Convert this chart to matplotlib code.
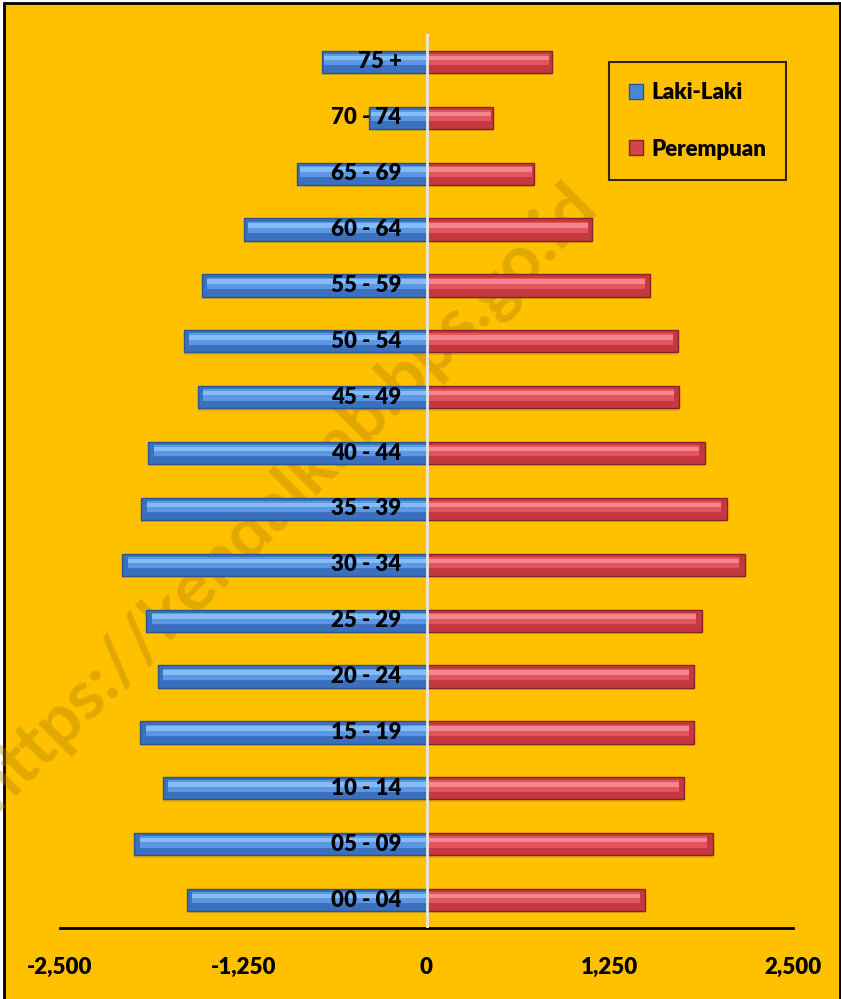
import matplotlib
matplotlib.use("Agg")
import matplotlib.pyplot as plt
from matplotlib.patches import Rectangle, Patch
from matplotlib.ticker import FuncFormatter
from matplotlib import font_manager
import numpy as np

categories = ["00 - 04", "05 - 09", "10 - 14", "15 - 19", "20 - 24", "25 - 29",
              "30 - 34", "35 - 39", "40 - 44", "45 - 49", "50 - 54", "55 - 59",
              "60 - 64", "65 - 69", "70 - 74", "75 +"]
laki = [1633, 1995, 1796, 1954, 1831, 1913, 2077, 1947, 1899, 1557, 1653, 1530,
        1243, 881, 389, 710]
perempuan = [1489, 1954, 1755, 1824, 1824, 1878, 2172, 2049, 1899, 1721, 1714,
             1523, 1127, 731, 451, 854]
xticks = [-2500, -1250, 0, 1250, 2500]

W, H = 841, 999
fig = plt.figure(figsize=(W / 100, H / 100), dpi=100, facecolor="white")
fig.patches.append(Rectangle((4 / W, -0.01), (836 / W), 1 - 3 / H + 0.01,
                             transform=fig.transFigure, facecolor="#FFC000",
                             edgecolor="black", linewidth=2, zorder=0))

FONT = "Lato"
WEIGHT = "heavy"
FS = 16

# watermark
fig.text(285 / W, 1 - 497 / H, "https://kendalkab.bps.go.id", rotation=45,
         ha="center", va="center", fontsize=50, fontweight="bold",
         family=FONT, color="#B08400", alpha=0.38, zorder=1)

ax = fig.add_axes([60 / W, 1 - 928 / H, (793 - 60) / W, (928 - 34) / H])
ax.set_facecolor("none")
ax.set_zorder(2)

y = np.arange(len(categories))
neg_laki = -np.array(laki)
pos_per = np.array(perempuan)
h = 0.4

# shadow
ax.barh(y - 0.04, neg_laki, height=h, color="#000000", alpha=0.10,
        linewidth=0, zorder=2)
ax.barh(y - 0.04, pos_per, height=h, color="#000000", alpha=0.10,
        linewidth=0, zorder=2)
# base bars
ax.barh(y, neg_laki, height=h, color="#3A70BE", edgecolor="#2A5592",
        linewidth=1.0, zorder=3)
ax.barh(y, pos_per, height=h, color="#C53840", edgecolor="#82242A",
        linewidth=1.0, zorder=3)
# highlight bands (bevel effect)
ax.barh(y + h * 0.1, neg_laki * 0.98, height=h * 0.5, color="#5C97E4",
        linewidth=0, zorder=4)
ax.barh(y + h * 0.1, pos_per * 0.98, height=h * 0.5, color="#E2555D",
        linewidth=0, zorder=4)
ax.barh(y + h * 0.18, neg_laki * 0.98, height=h * 0.2, color="#86BCF5",
        linewidth=0, zorder=4)
ax.barh(y + h * 0.18, pos_per * 0.98, height=h * 0.2, color="#F3868C",
        linewidth=0, zorder=4)

# category labels
for yi, cat in zip(y, categories):
    ax.text(-170, yi, cat, ha="right", va="center", fontsize=FS,
            fontweight=WEIGHT, family=FONT, color="black", zorder=6)

# center line
ax.axvline(0, color="#E6E6E6", linewidth=2, zorder=5)

ax.set_xlim(-2500, 2500)
ax.set_ylim(-0.5, 15.5)
ax.set_yticks([])
ax.set_xticks(xticks)
ax.xaxis.set_major_formatter(FuncFormatter(lambda v, p: f"{int(v):,}"))
for lab in ax.get_xticklabels():
    lab.set_fontfamily(FONT)
    lab.set_fontweight(WEIGHT)
    lab.set_fontsize(FS)
ax.tick_params(axis="x", length=0, pad=21)
for s in ["top", "left", "right"]:
    ax.spines[s].set_visible(False)
ax.spines["bottom"].set_linewidth(2)
ax.spines["bottom"].set_color("black")

# legend
handles = [Patch(facecolor="#4A85D6", edgecolor="#2A5592", label="Laki-Laki"),
           Patch(facecolor="#D0444C", edgecolor="#82242A", label="Perempuan")]
leg = fig.legend(handles=handles, loc="upper left",
                 bbox_to_anchor=(609 / W, 1 - 62 / H),
                 prop={"family": FONT, "weight": WEIGHT, "size": FS},
                 frameon=True, fancybox=False, edgecolor="black",
                 facecolor="#FFC000", handlelength=0.65, handleheight=0.65,
                 handletextpad=0.35, labelspacing=1.6, borderpad=0.9,
                 borderaxespad=0)
leg.get_frame().set_linewidth(1.5)
leg.set_zorder(7)

fig.savefig("out.png", dpi=100, facecolor="white")
